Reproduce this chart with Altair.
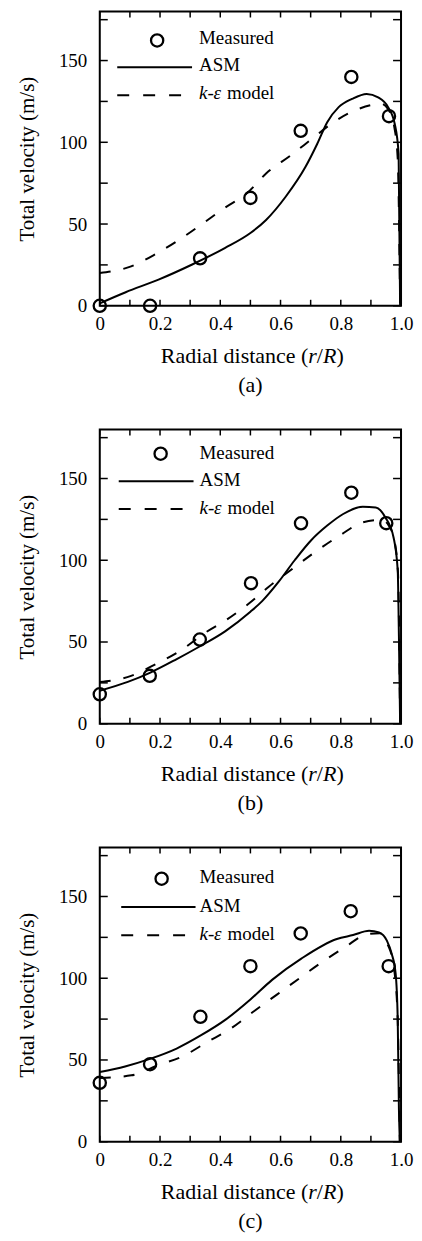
import altair as alt
import pandas as pd

FONT = "'Liberation Serif', 'Times New Roman', Times, serif"

# ---------------- data ----------------
# Panel (a)
MEAS_R_A = [0.0, 0.167, 0.333, 0.5, 0.667, 0.835, 0.96]
MEAS_V_A = [0, 0, 29, 66, 107, 140, 116]
ASM_R_A = [0.0, 0.086, 0.195, 0.305, 0.415, 0.5, 0.552, 0.617, 0.683, 0.722,
           0.755, 0.793, 0.837, 0.886, 0.924, 0.957, 0.979, 0.992, 0.997]
ASM_V_A = [1.5, 8.3, 16, 25.1, 35.3, 44.5, 52.5, 66.7, 85, 99.1,
           112.3, 121.5, 126.5, 129.6, 127.5, 121.5, 111.3, 93, 0]
KE_R_A = [0.0, 0.104, 0.187, 0.263, 0.34, 0.417, 0.49, 0.552, 0.634, 0.705, 0.776,
          0.859, 0.935, 0.958, 0.977, 0.989, 0.997]
KE_V_A = [20, 24.1, 31.8, 40.3, 50.1, 60.2, 69.1, 80.9, 92, 102.2, 112.3,
          120.4, 123.5, 120, 110, 90, 0]

# Panel (b)
MEAS_R_B = [0.0, 0.166, 0.332, 0.502, 0.668, 0.835, 0.951]
MEAS_V_B = [18, 29.3, 51.5, 86, 122.6, 141.3, 122.7]
ASM_R_B = [0.0, 0.093, 0.168, 0.254, 0.33, 0.416, 0.5, 0.539, 0.594, 0.647, 0.701,
           0.755, 0.808, 0.873, 0.916, 0.948, 0.975, 0.989, 0.993, 0.997]
ASM_V_B = [20.2, 25.6, 31.3, 39.4, 47.1, 56.5, 68.5, 75, 86.9, 100, 112.1,
           121.2, 128.3, 132.7, 132.3, 126.2, 114.1, 93.9, 53.5, 0]
KE_R_B = [0.0, 0.104, 0.185, 0.27, 0.346, 0.421, 0.496, 0.561, 0.641, 0.722, 0.797,
          0.873, 0.937, 0.96, 0.978, 0.99, 0.997]
KE_V_B = [25.5, 29.3, 36.4, 45, 55.2, 63.6, 73.7, 83.8, 95, 106, 115.2,
          123.2, 124.7, 121, 112, 92, 0]

# Panel (c)
MEAS_R_C = [0.0, 0.167, 0.334, 0.5, 0.667, 0.833, 0.959]
MEAS_V_C = [36, 47.4, 76.4, 107.4, 127.4, 141, 107.4]
ASM_R_C = [0.0, 0.084, 0.164, 0.255, 0.335, 0.42, 0.5, 0.572, 0.669, 0.787, 0.841,
           0.894, 0.927, 0.953, 0.969, 0.982, 0.989, 0.993, 0.996]
ASM_V_C = [42.6, 46, 50.5, 57, 65, 75, 87, 99, 112, 124, 126.4,
           129, 128, 123, 115, 103, 75, 20, 0]
KE_R_C = [0.0, 0.105, 0.191, 0.277, 0.357, 0.438, 0.513, 0.588, 0.663, 0.739, 0.814,
          0.889, 0.93, 0.955, 0.975, 0.988, 0.996]
KE_V_C = [39, 40.6, 46.6, 52.4, 61, 69.6, 80, 90, 100, 110, 119,
          127, 127.5, 121, 108, 80, 0]

X_TICKS = [0.0, 0.1, 0.2, 0.3, 0.4, 0.5, 0.6, 0.7, 0.8, 0.9, 1.0]
X_LABELED = [0.0, 0.2, 0.4, 0.6, 0.8, 1.0]
X_LABELS = ["0", "0.2", "0.4", "0.6", "0.8", "1.0"]
Y_TICKS = [0, 25, 50, 75, 100, 125, 150, 175]
Y_LABELED = [0, 50, 100, 150]
Y_LABELS = ["0", "50", "100", "150"]
X_DOMAIN = [0, 1]
Y_DOMAIN = [0, 180]

LEGEND_LABELS = ["Measured", "ASM", "model"]
CAPTIONS = ["(a)", "(b)", "(c)"]
Y_TITLE = "Total velocity (m/s)"
X_TITLE_PARTS = ["Radial distance (", "r", "/", "R", ")"]

W, H = 302, 295
TX, TY = 6, 8  # inner tick lengths


def label_expr(vals, labs):
    return " : ".join(f"datum.value == {v} ? '{l}'" for v, l in zip(vals, labs)) + " : ''"


xs = alt.Scale(domain=X_DOMAIN, nice=False, zero=False)
ys = alt.Scale(domain=Y_DOMAIN, nice=False)
common_axis = dict(domain=False, grid=False, ticks=False,
                   labelColor="black", labelFont=FONT, labelFontSize=19)
X_ENC = alt.X("r:Q", scale=xs, axis=alt.Axis(orient="bottom", values=X_LABELED,
              labelExpr=label_expr(X_LABELED, X_LABELS),
              labelPadding=9, title=None, labelFlush=False, labelOverlap=False, **common_axis))
Y_ENC = alt.Y("v:Q", scale=ys, axis=alt.Axis(orient="left", values=Y_LABELED,
              labelExpr=label_expr(Y_LABELED, Y_LABELS),
              labelPadding=13, title=Y_TITLE, titleFont=FONT, titleFontSize=21,
              titleFontWeight="normal", titleColor="black", titlePadding=21,
              labelFlush=False, labelOverlap=False, **common_axis))


def panel(meas_r, meas_v, asm_r, asm_v, ke_r, ke_v, caption, lg):
    meas = pd.DataFrame({"r": meas_r, "v": meas_v})
    asm = pd.DataFrame({"r": asm_r, "v": asm_v})
    ke = pd.DataFrame({"r": ke_r, "v": ke_v})
    xt_df = pd.DataFrame({"r": X_TICKS})
    yt_df = pd.DataFrame({"v": Y_TICKS})
    one = pd.DataFrame({"k": [0]})

    tk = dict(color="black", strokeWidth=1.5)
    # inner ticks on all four edges
    ticks = [
        alt.Chart(xt_df).mark_rule(**tk).encode(x=X_ENC, y=alt.value(H - TX), y2=alt.value(H)),
        alt.Chart(xt_df).mark_rule(**tk).encode(x=X_ENC, y=alt.value(0), y2=alt.value(TX)),
        alt.Chart(yt_df).mark_rule(**tk).encode(y=Y_ENC, x=alt.value(0), x2=alt.value(TY)),
        alt.Chart(yt_df).mark_rule(**tk).encode(y=Y_ENC, x=alt.value(W - TY), x2=alt.value(W)),
    ]

    l_asm = alt.Chart(asm).mark_line(color="black", strokeWidth=2, interpolate="monotone").encode(
        x=X_ENC, y=Y_ENC)
    l_ke = alt.Chart(ke).mark_line(color="black", strokeWidth=2, strokeDash=[11, 13],
                                   interpolate="monotone").encode(x=X_ENC, y=Y_ENC)
    pts = alt.Chart(meas).mark_point(shape="circle", filled=False, color="black", size=150,
                                     strokeWidth=2.3, opacity=1).encode(x=X_ENC, y=Y_ENC)

    txt = dict(font=FONT, fontSize=19, color="black", align="left", baseline="alphabetic")
    leg = [
        alt.Chart(one).mark_point(shape="circle", filled=False, color="black", size=150,
                                  strokeWidth=2.3, opacity=1).encode(x=alt.value(lg["cx"]), y=alt.value(lg["cy"])),
        alt.Chart(one).mark_text(text=LEGEND_LABELS[0], **txt).encode(x=alt.value(lg["tx"]), y=alt.value(lg["b1"])),
        alt.Chart(one).mark_rule(color="black", strokeWidth=2).encode(
            x=alt.value(lg["lx"]), x2=alt.value(lg["ax2"]), y=alt.value(lg["ly1"])),
        alt.Chart(one).mark_text(text=LEGEND_LABELS[1], **txt).encode(x=alt.value(lg["tx"]), y=alt.value(lg["b2"])),
        alt.Chart(one).mark_rule(color="black", strokeWidth=2, strokeDash=[12, 14]).encode(
            x=alt.value(lg["lx"]), x2=alt.value(lg["kx2"]), y=alt.value(lg["ly2"])),
        alt.Chart(one).mark_text(text="k", fontStyle="italic", **txt).encode(
            x=alt.value(lg["tx"]), y=alt.value(lg["b3"])),
        alt.Chart(one).mark_text(text="-", **txt).encode(
            x=alt.value(lg["tx"] + 8.5), y=alt.value(lg["b3"])),
        alt.Chart(one).mark_text(text="\u03b5", fontStyle="italic", **txt).encode(
            x=alt.value(lg["tx"] + 14.5), y=alt.value(lg["b3"])),
        alt.Chart(one).mark_text(text=LEGEND_LABELS[2], **txt).encode(
            x=alt.value(lg["tx"] + 28), y=alt.value(lg["b3"])),
    ]

    ttl = dict(font=FONT, fontSize=22, color="black", baseline="alphabetic")
    yb = H + 57
    x0 = 209
    xt = [
        alt.Chart(one).mark_text(text=X_TITLE_PARTS[0], align="right", **ttl).encode(
            x=alt.value(x0), y=alt.value(yb)),
        alt.Chart(one).mark_text(text=X_TITLE_PARTS[1], align="left", fontStyle="italic", **ttl).encode(
            x=alt.value(x0), y=alt.value(yb)),
        alt.Chart(one).mark_text(text=X_TITLE_PARTS[2], align="left", **ttl).encode(
            x=alt.value(x0 + 8.6), y=alt.value(yb)),
        alt.Chart(one).mark_text(text=X_TITLE_PARTS[3], align="left", fontStyle="italic", **ttl).encode(
            x=alt.value(x0 + 14.7), y=alt.value(yb)),
        alt.Chart(one).mark_text(text=X_TITLE_PARTS[4], align="left", **ttl).encode(
            x=alt.value(x0 + 28.3), y=alt.value(yb)),
        alt.Chart(one).mark_text(text=caption, align="center", **ttl).encode(
            x=alt.value(151), y=alt.value(H + 86)),
    ]

    return alt.layer(*ticks, l_asm, l_ke, pts, *leg, *xt).properties(width=W, height=H)


LEG_A = dict(cx=57.5, cy=29, tx=99.5, b1=32.3, ly1=56, b2=59.7, ly2=84, b3=88, lx=17.5, ax2=92.5, kx2=83.5)
LEG_B = dict(cx=61, cy=24.3, tx=100, b1=29.3, ly1=52, b2=56.3, ly2=79.7, b3=84.7, lx=19, ax2=94, kx2=85)
LEG_C = dict(cx=62, cy=31.3, tx=100, b1=35.3, ly1=59.7, b2=64.7, ly2=88, b3=93, lx=21.5, ax2=96, kx2=87)

pa = panel(MEAS_R_A, MEAS_V_A, ASM_R_A, ASM_V_A, KE_R_A, KE_V_A, CAPTIONS[0], LEG_A)
pb = panel(MEAS_R_B, MEAS_V_B, ASM_R_B, ASM_V_B, KE_R_B, KE_V_B, CAPTIONS[1], LEG_B)
pc = panel(MEAS_R_C, MEAS_V_C, ASM_R_C, ASM_V_C, KE_R_C, KE_V_C, CAPTIONS[2], LEG_C)

chart = alt.vconcat(pa, pb, pc, spacing=31).properties(
    padding={"left": 7, "top": 0, "right": 0, "bottom": 0},
    background="white",
).configure_view(stroke="black", strokeWidth=2)

chart.save("out.html", embed_options={"renderer": "svg", "actions": False})
